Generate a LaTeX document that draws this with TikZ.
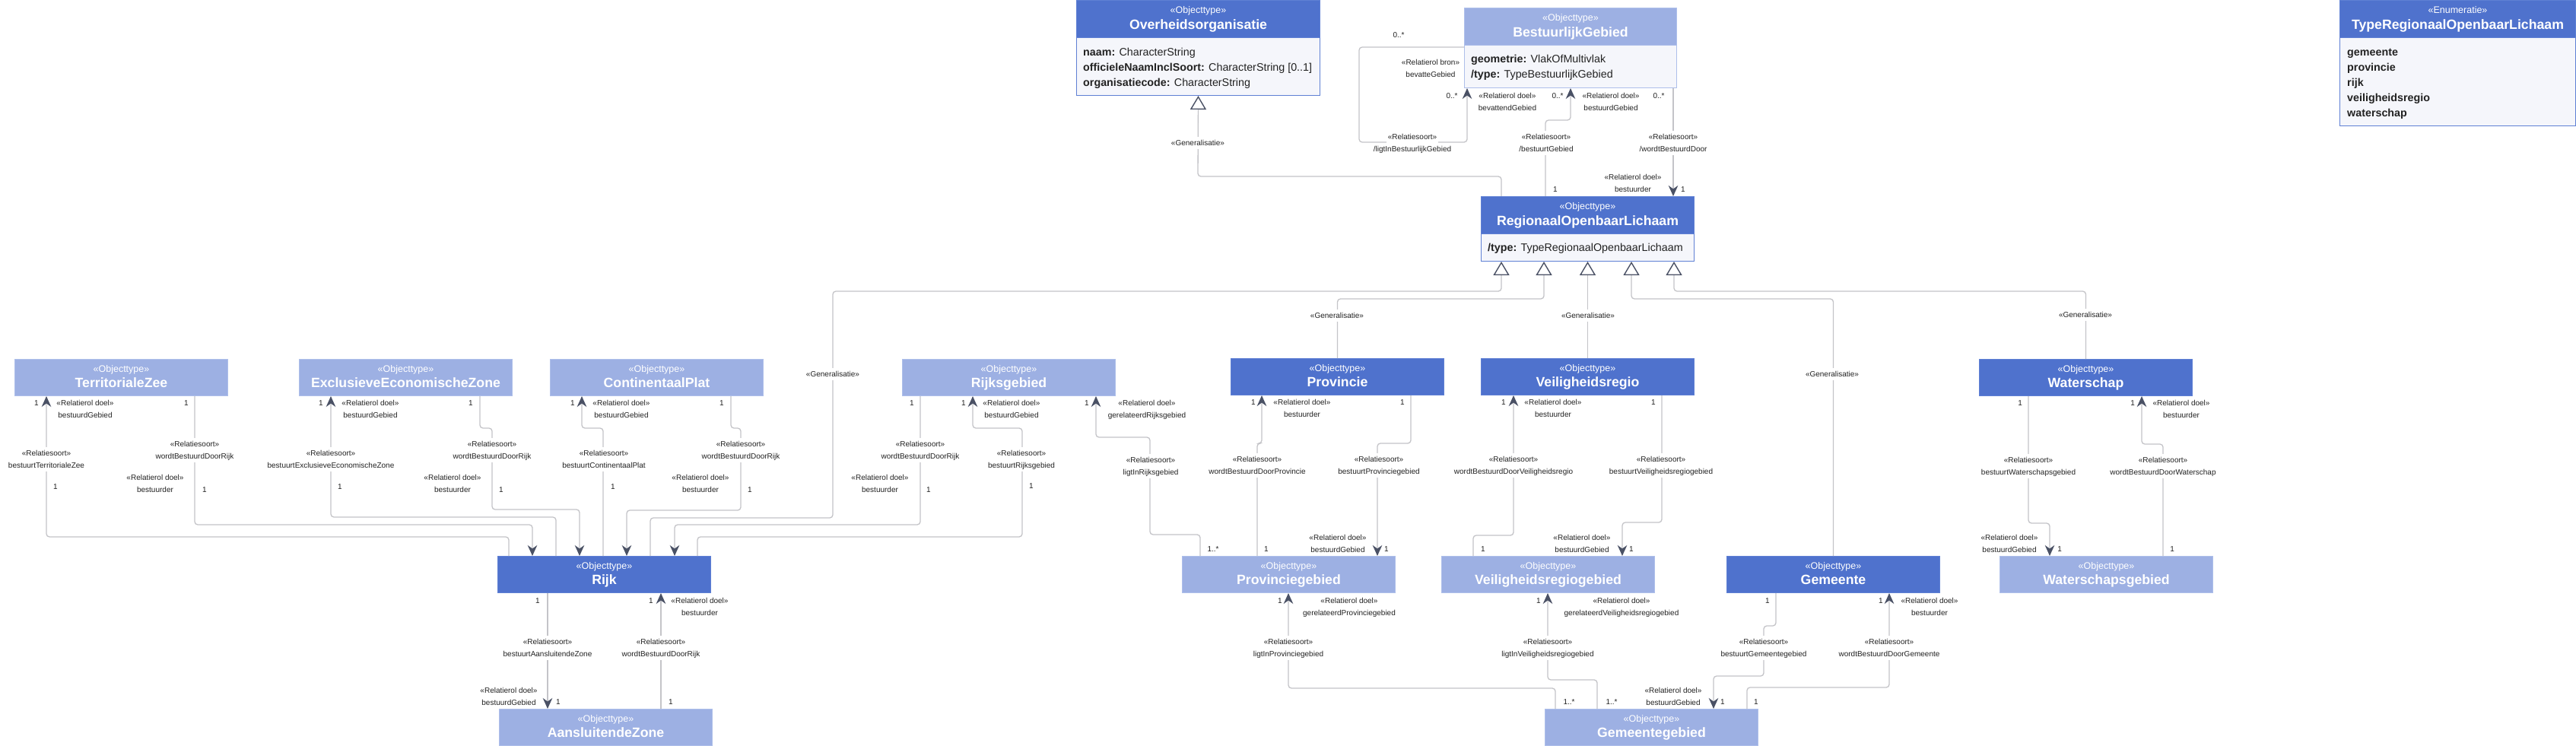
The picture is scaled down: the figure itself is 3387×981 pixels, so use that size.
\documentclass[tikz,border=0pt]{standalone}
\usepackage{fontspec}
\setmainfont{Liberation Sans}
\usetikzlibrary{arrows.meta}
\definecolor{hdrdark}{HTML}{4F72CD}
\definecolor{hdrlight}{HTML}{9DB0E3}
\definecolor{bodyc}{HTML}{F5F6FB}
\definecolor{borderd}{HTML}{5F80D4}
\definecolor{borderl}{HTML}{AEBFEA}
\definecolor{linec}{HTML}{C4C4C8}
\definecolor{arrc}{HTML}{4A5165}
\definecolor{txt}{HTML}{222222}
\tikzset{
  every node/.style={inner sep=0pt, text=txt},
  boxd/.style={draw=borderd, fill=hdrdark, line width=1pt, minimum width=280pt, minimum height=48pt, anchor=north west},
  boxl/.style={draw=borderl, fill=hdrlight, line width=1pt, minimum width=280pt, minimum height=48pt, anchor=north west},
  bodyd/.style={draw=borderd, fill=bodyc, line width=1pt, anchor=north west},
  bodyl/.style={draw=borderl, fill=bodyc, line width=1pt, anchor=north west},
  stereo/.style={font=\fontsize{12.5}{14}\selectfont, text=white, text height=9pt, text depth=0pt},
  ttl/.style={font=\fontsize{17.7}{20}\selectfont\bfseries, text=white, text height=12.7pt, text depth=0pt},
  attr/.style={font=\fontsize{14.3}{17}\selectfont, anchor=west, text height=10.2pt, text depth=0pt},
  lab/.style={font=\fontsize{10}{12}\selectfont, text height=7.2pt, text depth=0pt},
  rlab/.style={lab, fill=white, inner xsep=2pt, inner ysep=4.5pt},
  conn/.style={draw=linec, line width=1.3pt, rounded corners=4pt},
  arr/.style={-{Stealth[length=14pt,width=12.5pt,inset=4.5pt,color=arrc]}},
  gen/.style={-{Triangle[length=18pt,width=21pt,color=arrc,fill=white,line width=1.4pt]}},
}
\newcommand\umlcls[5]{%
  \node[#4] (#1) at (#2,#3) {};
  \node[stereo] (#1-s) at ([yshift=-12.5pt]#1.north) {«Objecttype»};
  \node[ttl] (#1-t) at ([yshift=-31.5pt]#1.north) {#5};}
\newcommand\rellab[4]{%
  \node[rlab] (#1) at (#2,#3) {«Relatiesoort»};
  \node[rlab] (#1b) at (#2,#3+16) {#4};}
\newcommand\rolelab[5]{%
  \node[lab] (#1) at (#2,#3) {#4};
  \node[lab] (#1b) at (#2,#3+16) {#5};}
\newcommand\mlab[4]{\node[lab] (#1) at (#2,#3) {#4};}
\newcommand\genlab[3]{\node[rlab] (#1) at (#2,#3) {«Generalisatie»};}
\begin{document}
\begin{tikzpicture}[x=1pt,y=-1pt]
\fill[white] (0,0) rectangle (3387,981);
\useasboundingbox (0,0) rectangle (3387,981);

% ---- classes with attributes
\node[bodyd, minimum width=320pt, minimum height=125pt] (ov) at (1415,0) {};
\node[boxd, minimum width=320pt, minimum height=49pt] (ov-h) at (ov.north west) {};
\node[stereo] (ov-s) at ([yshift=-13pt]ov.north) {«Objecttype»};
\node[ttl] (ov-t) at ([yshift=-32pt]ov.north) {Overheidsorganisatie};
\node[attr] (ov-a1) at (1424,68) {\textbf{naam:} CharacterString};
\node[attr] (ov-a2) at (1424,88) {\textbf{officieleNaamInclSoort:} CharacterString [0..1]};
\node[attr] (ov-a3) at (1424,108) {\textbf{organisatiecode:} CharacterString};

\node[bodyl, minimum width=279pt, minimum height=105pt] (bg) at (1925,10) {};
\node[boxl, minimum width=279pt, minimum height=49pt] (bg-h) at (bg.north west) {};
\node[stereo] (bg-s) at ([yshift=-13pt]bg.north) {«Objecttype»};
\node[ttl] (bg-t) at ([yshift=-32pt]bg.north) {BestuurlijkGebied};
\node[attr] (bg-a1) at (1934,77) {\textbf{geometrie:} VlakOfMultivlak};
\node[attr] (bg-a2) at (1934,97) {\textbf{/type:} TypeBestuurlijkGebied};

\node[bodyd, minimum width=310pt, minimum height=165pt] (en) at (3076,0) {};
\node[boxd, minimum width=310pt, minimum height=49pt] (en-h) at (en.north west) {};
\node[stereo] (en-s) at ([yshift=-13pt]en.north) {«Enumeratie»};
\node[ttl] (en-t) at ([yshift=-32pt]en.north) {TypeRegionaalOpenbaarLichaam};
\node[attr] (en-a1) at (3086,68) {\textbf{gemeente}};
\node[attr] (en-a2) at (3086,88) {\textbf{provincie}};
\node[attr] (en-a3) at (3086,108) {\textbf{rijk}};
\node[attr] (en-a4) at (3086,128) {\textbf{veiligheidsregio}};
\node[attr] (en-a5) at (3086,148) {\textbf{waterschap}};

\node[bodyd, minimum width=280pt, minimum height=85pt] (rol) at (1947,258) {};
\node[boxd, minimum width=280pt, minimum height=49pt] (rol-h) at (rol.north west) {};
\node[stereo] (rol-s) at ([yshift=-13pt]rol.north) {«Objecttype»};
\node[ttl] (rol-t) at ([yshift=-32pt]rol.north) {RegionaalOpenbaarLichaam};
\node[attr] (rol-a1) at (1956,325) {\textbf{/type:} TypeRegionaalOpenbaarLichaam};

% ---- header-only classes
\umlcls{tz}{19}{472}{boxl}{TerritorialeZee}
\umlcls{eez}{393}{472}{boxl}{ExclusieveEconomischeZone}
\umlcls{cp}{723}{472}{boxl}{ContinentaalPlat}
\umlcls{rg}{1186}{472}{boxl}{Rijksgebied}
\umlcls{prov}{1618}{471}{boxd}{Provincie}
\umlcls{vr}{1947}{471}{boxd}{Veiligheidsregio}
\umlcls{ws}{2602}{472}{boxd}{Waterschap}
\umlcls{rijk}{654}{731}{boxd}{Rijk}
\umlcls{pg}{1554}{731}{boxl}{Provinciegebied}
\umlcls{vrg}{1895}{731}{boxl}{Veiligheidsregiogebied}
\umlcls{gem}{2270}{731}{boxd}{Gemeente}
\umlcls{wsg}{2629}{731}{boxl}{Waterschapsgebied}
\umlcls{az}{656}{932}{boxl}{AansluitendeZone}
\umlcls{gg}{2031}{932}{boxl}{Gemeentegebied}

% ---- connectors: top
\draw[conn,gen] ([xshift=27pt]rol.north west) |- (1575,232) -- (ov.south);
\draw[conn,arr] ([yshift=-52pt]bg.north west) -| (1787,187) -| ([xshift=4pt]bg.south west);
\draw[conn,arr] ([xshift=85pt]rol.north west) |- (2065,158) -- ([xshift=140pt]bg.south west);
\draw[conn,arr] ([xshift=275pt]bg.south west) -- ([xshift=253pt]rol.north west);

% generalisations to RegionaalOpenbaarLichaam
\draw[conn,gen] ([xshift=201pt]rijk.north west) |- (1095,681) |- (1974,383) -- ([xshift=27pt]rol.south west);
\draw[conn,gen] (prov.north) |- (2030,393) -- ([xshift=83pt]rol.south west);
\draw[conn,gen] (vr.north) -- (rol.south);
\draw[conn,gen] (gem.north) |- (2145,393) -- ([xshift=198pt]rol.south west);
\draw[conn,gen] (ws.north) |- (2201,383) -- ([xshift=254pt]rol.south west);

% left group
\draw[conn,arr] ([xshift=15pt]rijk.north west) |- (61,706) -- ([xshift=42pt]tz.south west);
\draw[conn,arr] ([xshift=237pt]tz.south west) |- (700,690) -- ([xshift=46pt]rijk.north west);
\draw[conn,arr] ([xshift=77pt]rijk.north west) |- (435,680) -- ([xshift=42pt]eez.south west);
\draw[conn,arr] ([xshift=238pt]eez.south west) |- (647,563) |- (762,670) -- ([xshift=108pt]rijk.north west);
\draw[conn,arr] ([xshift=139pt]rijk.north west) |- (765,563) -- ([xshift=42pt]cp.south west);
\draw[conn,arr] ([xshift=238pt]cp.south west) |- (974,563) |- (824,671) -- ([xshift=170pt]rijk.north west);
\draw[conn,arr] ([xshift=24pt]rg.south west) |- (887,690) -- ([xshift=233pt]rijk.north west);
\draw[conn,arr] ([xshift=263pt]rijk.north west) |- (1344,706) |- (1279,563) -- ([xshift=93pt]rg.south west);
\draw[conn,arr] ([xshift=24pt]pg.north west) |- (1512,703) |- (1441,575) -- ([xshift=255pt]rg.south west);

% provincie / veiligheidsregio
\draw[conn,arr] ([xshift=99pt]pg.north west) |- (1659,583) -- ([xshift=41pt]prov.south west);
\draw[conn,arr] ([xshift=237pt]prov.south west) |- (1811,583) -- ([xshift=257pt]pg.north west);
\draw[conn,arr] ([xshift=42pt]vrg.north west) |- (1990,704) -- ([xshift=43pt]vr.south west);
\draw[conn,arr] ([xshift=238pt]vr.south west) |- (2133,687) -- ([xshift=238pt]vrg.north west);

% gemeentegebied
\draw[conn,arr] ([xshift=14pt]gg.north west) |- (1694,905) -- ([xshift=140pt]pg.south west);
\draw[conn,arr] ([xshift=69pt]gg.north west) |- (2035,894) -- ([xshift=140pt]vrg.south west);
\draw[conn,arr] ([xshift=65pt]gem.south west) |- (2319,823) |- (2253,889) -- ([xshift=222pt]gg.north west);
\draw[conn,arr] ([xshift=266pt]gg.north west) |- (2484,904) -- ([xshift=214pt]gem.south west);

% waterschap
\draw[conn,arr] ([xshift=65pt]ws.south west) |- (2695,688) -- ([xshift=66pt]wsg.north west);
\draw[conn,arr] ([xshift=215pt]wsg.north west) |- (2816,584) -- ([xshift=214pt]ws.south west);

% rijk / aansluitende zone
\draw[conn,arr] ([xshift=66pt]rijk.south west) -- ([xshift=64pt]az.north west);
\draw[conn,arr] ([xshift=213pt]az.north west) -- ([xshift=215pt]rijk.south west);

% ---- relatiesoort labels
\rellab{r1}{1857}{180}{/ligtInBestuurlijkGebied}
\rellab{r2}{2033}{180}{/bestuurtGebied}
\rellab{r3}{2200}{180}{/wordtBestuurdDoor}
\rellab{r4}{61}{596}{bestuurtTerritorialeZee}
\rellab{r5}{256}{584}{wordtBestuurdDoorRijk}
\rellab{r6}{435}{596}{bestuurtExclusieveEconomischeZone}
\rellab{r7}{647}{584}{wordtBestuurdDoorRijk}
\rellab{r8}{794}{596}{bestuurtContinentaalPlat}
\rellab{r9}{974}{584}{wordtBestuurdDoorRijk}
\rellab{r10}{1210}{584}{wordtBestuurdDoorRijk}
\rellab{r11}{1343}{596}{bestuurtRijksgebied}
\rellab{r12}{1513}{605}{ligtInRijksgebied}
\rellab{r13}{1653}{604}{wordtBestuurdDoorProvincie}
\rellab{r14}{1813}{604}{bestuurtProvinciegebied}
\rellab{r15}{1990}{604}{wordtBestuurdDoorVeiligheidsregio}
\rellab{r16}{2184}{604}{bestuurtVeiligheidsregiogebied}
\rellab{r17}{2667}{605}{bestuurtWaterschapsgebied}
\rellab{r18}{2844}{605}{wordtBestuurdDoorWaterschap}
\rellab{r19}{720}{844}{bestuurtAansluitendeZone}
\rellab{r20}{869}{844}{wordtBestuurdDoorRijk}
\rellab{r21}{1694}{844}{ligtInProvinciegebied}
\rellab{r22}{2035}{844}{ligtInVeiligheidsregiogebied}
\rellab{r23}{2319}{844}{bestuurtGemeentegebied}
\rellab{r24}{2484}{844}{wordtBestuurdDoorGemeente}

% ---- generalisatie labels
\genlab{g1}{1575}{188}
\genlab{g2}{1095}{492}
\genlab{g3}{1758}{415}
\genlab{g4}{2088}{415}
\genlab{g5}{2409}{492}
\genlab{g6}{2742}{414}

% ---- role labels
\rolelab{o1}{1881}{82}{«Relatierol bron»}{bevatteGebied}
\rolelab{o2}{1982}{126}{«Relatierol doel»}{bevattendGebied}
\rolelab{o3}{2118}{126}{«Relatierol doel»}{bestuurdGebied}
\rolelab{o4}{2147}{233}{«Relatierol doel»}{bestuurder}
\rolelab{o5}{112}{530}{«Relatierol doel»}{bestuurdGebied}
\rolelab{o6}{204}{628}{«Relatierol doel»}{bestuurder}
\rolelab{o7}{487}{530}{«Relatierol doel»}{bestuurdGebied}
\rolelab{o8}{595}{628}{«Relatierol doel»}{bestuurder}
\rolelab{o9}{817}{530}{«Relatierol doel»}{bestuurdGebied}
\rolelab{o10}{921}{628}{«Relatierol doel»}{bestuurder}
\rolelab{o11}{1157}{628}{«Relatierol doel»}{bestuurder}
\rolelab{o12}{1330}{530}{«Relatierol doel»}{bestuurdGebied}
\rolelab{o13}{1508}{530}{«Relatierol doel»}{gerelateerdRijksgebied}
\rolelab{o14}{1712}{529}{«Relatierol doel»}{bestuurder}
\rolelab{o15}{1759}{707}{«Relatierol doel»}{bestuurdGebied}
\rolelab{o16}{2042}{529}{«Relatierol doel»}{bestuurder}
\rolelab{o17}{2080}{707}{«Relatierol doel»}{bestuurdGebied}
\rolelab{o18}{2868}{530}{«Relatierol doel»}{bestuurder}
\rolelab{o19}{2642}{707}{«Relatierol doel»}{bestuurdGebied}
\rolelab{o20}{920}{790}{«Relatierol doel»}{bestuurder}
\rolelab{o21}{669}{908}{«Relatierol doel»}{bestuurdGebied}
\rolelab{o22}{1774}{790}{«Relatierol doel»}{gerelateerdProvinciegebied}
\rolelab{o23}{2132}{790}{«Relatierol doel»}{gerelateerdVeiligheidsregiogebied}
\rolelab{o24}{2537}{790}{«Relatierol doel»}{bestuurder}
\rolelab{o25}{2200}{908}{«Relatierol doel»}{bestuurdGebied}

% ---- multiplicities
\mlab{m1}{1839}{46}{0..*}
\mlab{m2}{1909}{126}{0..*}
\mlab{m3}{2048}{126}{0..*}
\mlab{m4}{2181}{126}{0..*}
\mlab{m5}{2045}{249}{1}
\mlab{m6}{2213}{249}{1}
\mlab{m7}{48}{530}{1}
\mlab{m8}{73}{640}{1}
\mlab{m9}{245}{530}{1}
\mlab{m10}{269}{644}{1}
\mlab{m11}{422}{530}{1}
\mlab{m12}{447}{640}{1}
\mlab{m13}{619}{530}{1}
\mlab{m14}{659}{644}{1}
\mlab{m15}{753}{530}{1}
\mlab{m16}{806}{640}{1}
\mlab{m17}{949}{530}{1}
\mlab{m18}{986}{644}{1}
\mlab{m19}{1199}{530}{1}
\mlab{m20}{1221}{644}{1}
\mlab{m21}{1267}{530}{1}
\mlab{m22}{1356}{639}{1}
\mlab{m23}{1429}{530}{1}
\mlab{m24}{1595}{722}{1..*}
\mlab{m25}{1648}{529}{1}
\mlab{m26}{1844}{529}{1}
\mlab{m27}{1665}{722}{1}
\mlab{m28}{1823}{722}{1}
\mlab{m29}{1977}{529}{1}
\mlab{m30}{2174}{529}{1}
\mlab{m31}{1950}{722}{1}
\mlab{m32}{2145}{722}{1}
\mlab{m33}{2656}{530}{1}
\mlab{m34}{2804}{530}{1}
\mlab{m35}{2708}{722}{1}
\mlab{m36}{2856}{722}{1}
\mlab{m37}{707}{790}{1}
\mlab{m38}{856}{790}{1}
\mlab{m39}{734}{923}{1}
\mlab{m40}{882}{923}{1}
\mlab{m41}{1683}{790}{1}
\mlab{m42}{2023}{790}{1}
\mlab{m43}{2063}{923}{1..*}
\mlab{m44}{2119}{923}{1..*}
\mlab{m45}{2265}{923}{1}
\mlab{m46}{2309}{923}{1}
\mlab{m47}{2324}{790}{1}
\mlab{m48}{2473}{790}{1}
\end{tikzpicture}
\end{document}
